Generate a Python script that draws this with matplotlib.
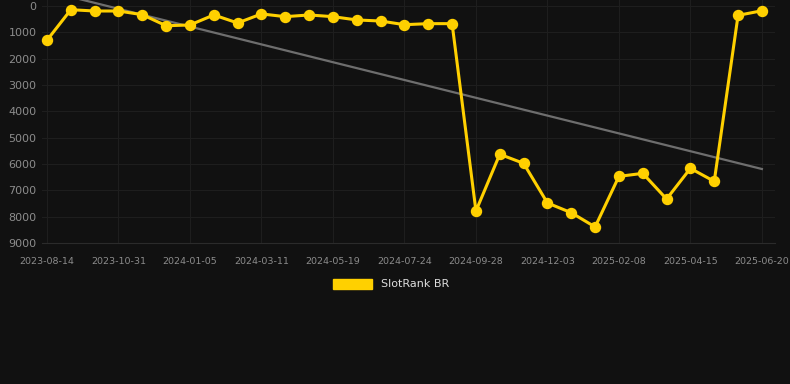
import numpy as np
import matplotlib.pyplot as plt
from matplotlib.patches import Patch

# rank values (lower = better), one point per step
rank = [1300, 140, 190, 190, 330, 750, 720, 340, 645, 300, 405,
        340, 405, 530, 570, 710, 670, 670, 7785, 5630, 5975,
        7480, 7850, 8390, 6470, 6355, 7330, 6165, 6660, 355, 180]

tick_labels = ["2023-08-14", "2023-10-31", "2024-01-05", "2024-03-11",
               "2024-05-19", "2024-07-24", "2024-09-28", "2024-12-03",
               "2025-02-08", "2025-04-15", "2025-06-20"]

# trend line end values
trend = [-570, 6190]

x = np.arange(len(rank))
tick_pos = x[::3]

bg = "#111111"
fig = plt.figure(figsize=(7.9, 3.84), dpi=100, facecolor=bg)
ax = fig.add_axes([42 / 790, 1 - 243 / 384, (775 - 42) / 790, 243 / 384])
ax.set_facecolor(bg)

ax.plot([x[0], x[-1]], trend, color="#6e6e6e", linewidth=1.6, zorder=2)
ax.plot(x, rank, color="#FFD000", linewidth=2.2, marker="o", markersize=7.2,
        zorder=3, clip_on=False)

ax.set_xlim(-5 / 23.83, (775 - 47) / 23.83)
ax.set_ylim(9000, -228)
ax.set_yticks(range(0, 9001, 1000))
ax.set_xticks(tick_pos)
ax.set_xticklabels(tick_labels)

ax.grid(True, color="#1e1e1e", linewidth=0.8)
ax.set_axisbelow(True)
for s in ["top", "right", "left"]:
    ax.spines[s].set_visible(False)
ax.spines["bottom"].set_color("#2b2b2b")

ax.tick_params(axis="y", length=0, labelsize=8, labelcolor="#8c8c8c", pad=4)
ax.tick_params(axis="x", length=0, labelsize=6.8, labelcolor="#8c8c8c", pad=10)

fig.legend(handles=[Patch(facecolor="#FFD000", edgecolor="#FFD000")],
           labels=["SlotRank BR"], loc="center", bbox_to_anchor=(391 / 790, 1 - 284 / 384),
           frameon=False, handlelength=3.5, handleheight=1.0, fontsize=8,
           labelcolor="#dddddd")

plt.savefig("out.png", dpi=100, facecolor=bg)
